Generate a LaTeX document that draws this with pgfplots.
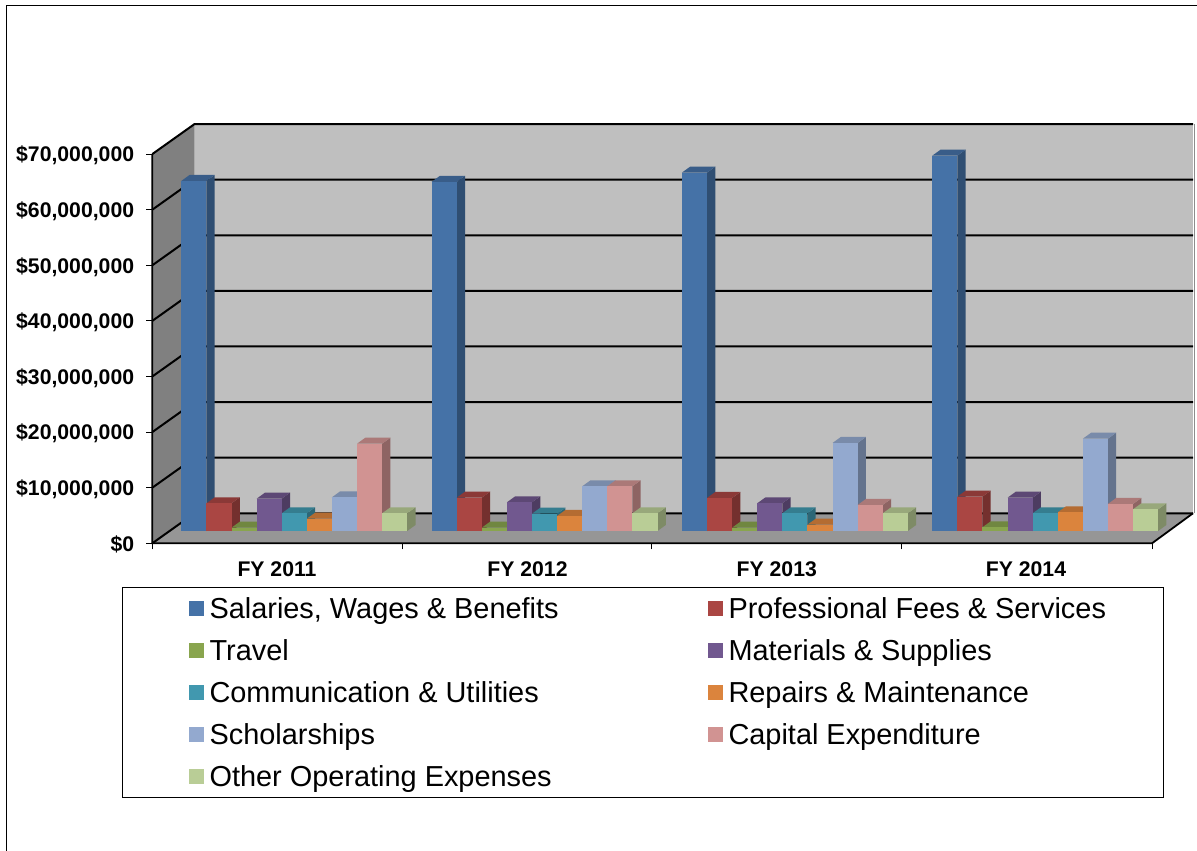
\documentclass[border=0pt]{standalone}
\usepackage{pgfplots}
\pgfplotsset{compat=1.18}
\usepackage{fontspec}
\setmainfont{Liberation Sans}

\definecolor{cSal}{HTML}{4572A7}
\definecolor{cPro}{HTML}{AA4643}
\definecolor{cTra}{HTML}{89A54E}
\definecolor{cMat}{HTML}{71588F}
\definecolor{cCom}{HTML}{4198AF}
\definecolor{cRep}{HTML}{DB843D}
\definecolor{cSch}{HTML}{93A9CF}
\definecolor{cCap}{HTML}{D19392}
\definecolor{cOth}{HTML}{B9CD96}

% one 3D column: group, position in group, value (millions), colour
% x axis runs in picture units, depth is 8.3 across and 1.08 (6 units) up
\newcommand{\threedbar}[4]{%
  \pgfmathsetmacro\xa{181.3+250.3*#1+25.1*#2}%
  \pgfmathsetmacro\xb{\xa+25.1}%
  \pgfmathsetmacro\xc{\xb+8.3}%
  \pgfmathsetmacro\xd{\xa+8.3}%
  \pgfmathsetmacro\yt{2.21+#3}%
  \pgfmathsetmacro\yu{\yt+1.08}%
  \edef\dobar{%
    \noexpand\addplot[forget plot,draw=none,fill=#4!68!black] coordinates {(\xb,2.21) (\xc,3.29) (\xc,\yu) (\xb,\yt)} --cycle;
    \noexpand\addplot[forget plot,draw=none,fill=#4!82!black] coordinates {(\xa,\yt) (\xb,\yt) (\xc,\yu) (\xd,\yu)} --cycle;
    \noexpand\addplot[forget plot,draw=none,fill=#4] coordinates {(\xa,2.21) (\xb,2.21) (\xb,\yt) (\xa,\yt)} --cycle;
  }\dobar
}
% grid line across the left wall and the back wall
\newcommand{\wallline}[1]{%
  \pgfmathsetmacro\yb{#1+5.4}%
  \edef\doline{\noexpand\addplot[forget plot,black,line width=2pt] coordinates {(152.3,#1) (194.5,\yb) (1193,\yb)};}\doline
}
\newcommand{\legtext}[2]{\makebox[#1pt][l]{\rule[-12pt]{0pt}{42pt}\hspace{-1pt}\raisebox{4pt}{#2}}}

\begin{document}
\begin{tikzpicture}[x=1pt,y=1pt]
\useasboundingbox (0,0) rectangle (1197,851);
\draw[black,line width=1pt] (6,0) -- (6,845) -- (1197,845);
\begin{axis}[
  at={(152.3pt,307.7pt)},
  anchor=south west,
  scale only axis,
  width=1044.7pt,
  height=420pt,
  xmin=152.3, xmax=1197,
  ymin=0, ymax=75.54,
  clip=false,
  axis line style={draw=none},
  xtick pos=bottom,
  ytick pos=left,
  tick align=outside,
  major tick length=6pt,
  tick style={black,line width=0.9pt},
  xtick={152.3,402.3,651.7,901.5,1152},
  xticklabels={},
  extra x ticks={277,527.5,776.8,1026},
  extra x tick labels={FY 2011,FY 2012,FY 2013,FY 2014},
  extra x tick style={tick style={draw=none},major tick length=0pt},
  xticklabel style={font=\bfseries\fontsize{21.2}{21}\selectfont,inner sep=0pt,yshift=-18.5pt},
  ytick={0,10,...,70},
  yticklabels={\$0,{\$10,000,000},{\$20,000,000},{\$30,000,000},{\$40,000,000},{\$50,000,000},{\$60,000,000},{\$70,000,000}},
  yticklabel style={font=\bfseries\fontsize{21.2}{21}\selectfont,inner sep=0pt,xshift=-12pt,yshift=-1.5pt},
  legend columns=2,
  legend cell align=left,
  legend image code/.code={%
    \path[draw=none,fill=none] (0pt,-21pt) rectangle (88pt,21pt);
    \fill[draw=none,#1] (66pt,-7.5pt) rectangle (81pt,7.5pt);
  },
  legend style={
    at={(axis cs:122,-7.86)},
    anchor=north west,
    draw=black,
    line width=1.1pt,
    inner sep=0pt,
    row sep=0pt,
    column sep=0pt,
    nodes={inner sep=0pt},
    font=\fontsize{28.9}{30}\selectfont,
  },
]
% walls and floor
\addplot[forget plot,draw=none,fill=black!25!white] coordinates {(194.5,5.4) (1193,5.4) (1193,75.4) (194.5,75.4)} --cycle;
\addplot[forget plot,draw=none,fill=black!41!white] coordinates {(152.3,0) (1152,0) (1193,5.4) (194.5,5.4)} --cycle;
\addplot[forget plot,draw=none,fill=black!50!white] coordinates {(152.3,0) (194.5,5.4) (194.5,75.4) (152.3,70)} --cycle;
\addplot[forget plot,black!45!white,line width=1.6pt] coordinates {(1194.5,5.4) (1194.5,75.4)};
\wallline{0}
\wallline{10}
\wallline{20}
\wallline{30}
\wallline{40}
\wallline{50}
\wallline{60}
\wallline{70}
\addplot[forget plot,black,line width=1.8pt] coordinates {(152.3,70) (152.3,0) (1152,0) (1193,5.4)};

% FY 2011
\threedbar{0}{0}{62.96}{cSal}
\threedbar{0}{1}{4.98}{cPro}
\threedbar{0}{2}{0.60}{cTra}
\threedbar{0}{3}{5.81}{cMat}
\threedbar{0}{4}{3.18}{cCom}
\threedbar{0}{5}{2.21}{cRep}
\threedbar{0}{6}{6.06}{cSch}
\threedbar{0}{7}{15.70}{cCap}
\threedbar{0}{8}{3.18}{cOth}
% FY 2012
\threedbar{1}{0}{62.80}{cSal}
\threedbar{1}{1}{5.99}{cPro}
\threedbar{1}{2}{0.60}{cTra}
\threedbar{1}{3}{5.16}{cMat}
\threedbar{1}{4}{3.11}{cCom}
\threedbar{1}{5}{2.70}{cRep}
\threedbar{1}{6}{8.04}{cSch}
\threedbar{1}{7}{8.04}{cCap}
\threedbar{1}{8}{3.18}{cOth}
% FY 2013
\threedbar{2}{0}{64.46}{cSal}
\threedbar{2}{1}{5.94}{cPro}
\threedbar{2}{2}{0.60}{cTra}
\threedbar{2}{3}{4.98}{cMat}
\threedbar{2}{4}{3.18}{cCom}
\threedbar{2}{5}{1.13}{cRep}
\threedbar{2}{6}{15.83}{cSch}
\threedbar{2}{7}{4.68}{cCap}
\threedbar{2}{8}{3.18}{cOth}
% FY 2014
\threedbar{3}{0}{67.50}{cSal}
\threedbar{3}{1}{6.17}{cPro}
\threedbar{3}{2}{0.67}{cTra}
\threedbar{3}{3}{5.99}{cMat}
\threedbar{3}{4}{3.18}{cCom}
\threedbar{3}{5}{3.36}{cRep}
\threedbar{3}{6}{16.60}{cSch}
\threedbar{3}{7}{4.86}{cCap}
\threedbar{3}{8}{3.90}{cOth}

\addlegendimage{fill=cSal}
\addlegendentry{\legtext{431}{Salaries, Wages \& Benefits}}
\addlegendimage{fill=cPro}
\addlegendentry{\legtext{434}{Professional Fees \& Services}}
\addlegendimage{fill=cTra}
\addlegendentry{\legtext{431}{Travel}}
\addlegendimage{fill=cMat}
\addlegendentry{\legtext{434}{Materials \& Supplies}}
\addlegendimage{fill=cCom}
\addlegendentry{\legtext{431}{Communication \& Utilities}}
\addlegendimage{fill=cRep}
\addlegendentry{\legtext{434}{Repairs \& Maintenance}}
\addlegendimage{fill=cSch}
\addlegendentry{\legtext{431}{Scholarships}}
\addlegendimage{fill=cCap}
\addlegendentry{\legtext{434}{Capital Expenditure}}
\addlegendimage{fill=cOth}
\addlegendentry{\legtext{431}{Other Operating Expenses}}
\end{axis}
\end{tikzpicture}
\end{document}
